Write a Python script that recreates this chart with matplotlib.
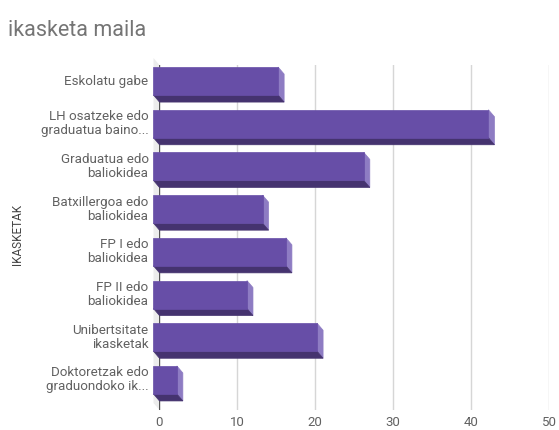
import matplotlib
matplotlib.use("Agg")
import matplotlib.pyplot as plt
from matplotlib.patches import Polygon
from matplotlib.transforms import offset_copy
import numpy as np

# data
categories = ["Eskolatu gabe", "LH osatzeke edo\ngraduatua baino...",
              "Graduatua edo\nbaliokidea", "Batxillergoa edo\nbaliokidea",
              "FP I edo\nbaliokidea", "FP II edo\nbaliokidea",
              "Unibertsitate\nikasketak", "Doktoretzak edo\ngraduondoko ik..."]
values = [16, 43, 27, 14, 17, 12, 21, 3]
x_ticks = [0, 10, 20, 30, 40, 50]

plt.rcParams['font.family'] = ['Roboto', 'DejaVu Sans']

fig = plt.figure(figsize=(5.59, 4.30), dpi=100)
ax = fig.add_axes([0.2853, 0.0465, 0.6968, 0.8023])

front_c = "#674ea7"
side_c = "#8e7cc3"
bottom_c = "#45336f"

y = np.arange(len(categories))
h = 0.656
dx = 0.77     # depth in x (data units)
dy = 0.164    # depth in y (category units)
ytop, ybot = -0.54, 7.54

# back wall at zero
wall = Polygon([(-dx, ytop - dy), (0, ytop), (0, ybot), (-dx, ybot - dy)],
               closed=True, facecolor="#ececec", edgecolor="none",
               clip_on=False, zorder=0)
ax.add_patch(wall)

for xv in x_ticks[1:]:
    ax.axvline(xv, color="#d6d6d6", lw=1, zorder=1)
ax.axvline(0, color="#555555", lw=1, zorder=1)

# front faces
ax.barh(y - dy, values, left=-dx, height=h, color=front_c, edgecolor=front_c,
        linewidth=0.5, zorder=4, clip_on=False)

for yi, v in zip(y, values):
    side = Polygon([(v - dx, yi - dy - h / 2), (v, yi - h / 2), (v, yi + h / 2),
                    (v - dx, yi - dy + h / 2)], closed=True, facecolor=side_c,
                   edgecolor=side_c, lw=0.5, zorder=3, clip_on=False)
    bottom = Polygon([(-dx, yi - dy + h / 2), (v - dx, yi - dy + h / 2),
                      (v, yi + h / 2), (0, yi + h / 2)], closed=True,
                     facecolor=bottom_c, edgecolor=bottom_c, lw=0.5,
                     zorder=3, clip_on=False)
    ax.add_patch(side)
    ax.add_patch(bottom)

ax.set_xlim(0, 50)
ax.set_ylim(ybot, ytop)
ax.set_xticks(x_ticks)
ax.set_yticks([])
ax.tick_params(axis="both", length=0, labelsize=9.5, labelcolor="#616161")
ax.tick_params(axis="x", pad=4)
for s in ax.spines.values():
    s.set_visible(False)

# category labels, one text per line so every line is right aligned
line_h = 14 * 0.72  # points
for yi, lab in zip(y, categories):
    lines = lab.split("\n")
    n = len(lines)
    for k, line in enumerate(lines):
        tr = offset_copy(ax.get_yaxis_transform(), fig=fig,
                         y=-(k - (n - 1) / 2) * line_h, units="points")
        ax.text(-0.028, yi - dy, line, transform=tr, ha="right", va="center",
                fontsize=9.6, color="#616161")

fig.text(0.014, 0.928, "ikasketa maila", fontsize=15.5, color="#757575",
         va="center", ha="left")
fig.text(0.031, 0.455, "IKASKETAK", fontsize=8.5, color="#444444",
         rotation=90, va="center", ha="center")

plt.savefig("out.png", dpi=100)
